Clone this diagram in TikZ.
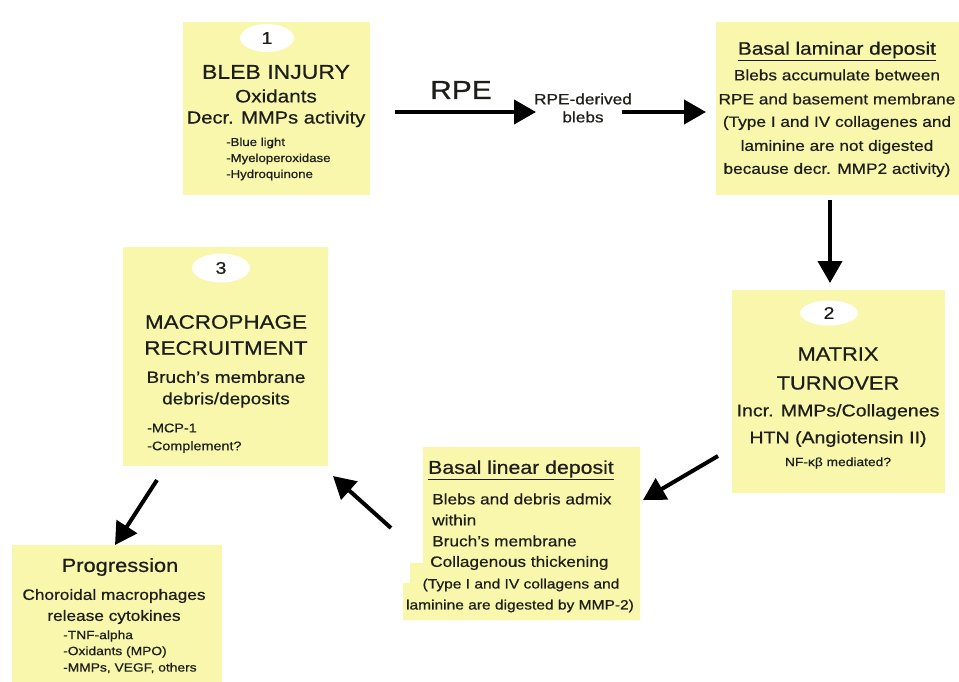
\documentclass[tikz,border=0pt]{standalone}
\usepackage{fontspec}
\setmainfont[FakeStretch=1.15,FakeBold=0.6]{Liberation Sans}
\usetikzlibrary{arrows.meta,shapes.geometric}
\newcommand{\fsz}[1]{\fontsize{#1}{1.15\dimexpr#1pt\relax}\selectfont}
\definecolor{boxyellow}{RGB}{248,247,172}
\definecolor{inkc}{RGB}{30,30,25}
\begin{document}
\begin{tikzpicture}[x=1pt,y=-1pt,
  ybox/.style={fill=boxyellow, draw=none, inner sep=0pt, rectangle},
  oval/.style={ellipse, fill=white, draw=none, inner sep=0pt},
  txt/.style={inner sep=0pt, text=inkc, anchor=center},
  ltxt/.style={inner sep=0pt, text=inkc, anchor=west},
  arr/.style={line width=4pt, draw=black, -{Triangle[length=22pt,width=24pt]}}]
\useasboundingbox (0,0) rectangle (959,682);
\fill[white] (0,0) rectangle (959,682);

% ---------- Box 1 ----------
\node[ybox, minimum width=187pt, minimum height=173pt] (b1) at (276.5,108.5) {};
\node[oval, minimum width=54pt, minimum height=28pt] (o1) at (267,38) {};
\node[txt] (o1t) at (o1) {\fsz{17}1};
\node[txt] (b1a) at (276,72) {\fsz{20}BLEB INJURY};
\node[txt] (b1b) at (276,96) {\fsz{18}Oxidants};
\node[txt] (b1c) at (276,119) {\fsz{17.5}Decr. MMPs activity};
\node[ltxt] (b1d) at (226,143) {\fsz{11.5}-Blue light};
\node[ltxt] (b1e) at (226,159) {\fsz{11.5}-Myeloperoxidase};
\node[ltxt] (b1f) at (226,175) {\fsz{11.5}-Hydroquinone};

% ---------- RPE ----------
\node[txt] (rpe) at (461,90) {\fsz{26}RPE};
\node[txt] (blebsa) at (583,99) {\fsz{15}RPE-derived};
\node[txt] (blebsb) at (583,117) {\fsz{15}blebs};

% ---------- Top right box ----------
\node[ybox, minimum width=243pt, minimum height=173pt] (tr) at (837.5,108.5) {};
\node[txt] (tra) at (837,51) {\fsz{18}\underline{Basal laminar deposit}};
\node[txt] (trb) at (837,75) {\fsz{15}Blebs accumulate between};
\node[txt] (trc) at (837,99) {\fsz{15}RPE and basement membrane};
\node[txt] (trd) at (837,123) {\fsz{15}(Type I and IV collagenes and};
\node[txt] (tre) at (837,147) {\fsz{15}laminine are not digested};
\node[txt] (trf) at (837,170) {\fsz{15}because decr. MMP2 activity)};

% ---------- Box 2 ----------
\node[ybox, minimum width=213pt, minimum height=203pt] (b2) at (838.5,391.5) {};
\node[oval, minimum width=58pt, minimum height=25pt] (o2) at (829,313) {};
\node[txt] (o2t) at (o2) {\fsz{17}2};
\node[txt] (b2a) at (838,354) {\fsz{19}MATRIX};
\node[txt] (b2b) at (838,383) {\fsz{19}TURNOVER};
\node[txt] (b2c) at (838,412) {\fsz{17}Incr. MMPs/Collagenes};
\node[txt] (b2d) at (838,439) {\fsz{17}HTN (Angiotensin II)};
\node[txt] (b2e) at (838,463) {\fsz{12}NF-κβ mediated?};

% ---------- Basal linear deposit ----------
\fill[boxyellow] (423,447) -- (640,447) -- (640,620) -- (403,620) -- (403,583) -- (410,583) -- (410,563) -- (423,563) -- cycle;
\node[txt] (bla) at (521,470) {\fsz{18.5}\underline{Basal linear deposit}};
\node[ltxt] (blb) at (432,499) {\fsz{15}Blebs and debris admix};
\node[ltxt] (blc) at (432,520) {\fsz{15}within};
\node[ltxt] (bld) at (432,541) {\fsz{15}Bruch’s membrane};
\node[ltxt] (ble) at (430,563) {\fsz{15}Collagenous thickening};
\node[txt] (blf) at (521,585) {\fsz{13.5}(Type I and IV collagens and};
\node[txt] (blg) at (520,606) {\fsz{13.5}laminine are digested by MMP-2)};

% ---------- Box 3 ----------
\node[ybox, minimum width=205pt, minimum height=219pt] (b3) at (225.5,356.5) {};
\node[oval, minimum width=58pt, minimum height=29pt] (o3) at (221,268) {};
\node[txt] (o3t) at (o3) {\fsz{17}3};
\node[txt] (b3a) at (226,322) {\fsz{19.5}MACROPHAGE};
\node[txt] (b3b) at (226,348) {\fsz{19.5}RECRUITMENT};
\node[txt] (b3c) at (226,377) {\fsz{16.5}Bruch’s membrane};
\node[txt] (b3d) at (226,400) {\fsz{16.5}debris/deposits};
\node[ltxt] (b3e) at (147,428) {\fsz{12.5}-MCP-1};
\node[ltxt] (b3f) at (147,447) {\fsz{12.5}-Complement?};

% ---------- Progression ----------
\node[ybox, minimum width=210pt, minimum height=137pt] (pr) at (117,613.5) {};
\node[txt] (pra) at (120,567) {\fsz{19}Progression};
\node[txt] (prb) at (114,596) {\fsz{15}Choroidal macrophages};
\node[txt] (prc) at (114,617) {\fsz{15}release cytokines};
\node[ltxt] (prd) at (63,636) {\fsz{12}-TNF-alpha};
\node[ltxt] (pre) at (63,652) {\fsz{12}-Oxidants (MPO)};
\node[ltxt] (prf) at (63,668) {\fsz{12}-MMPs, VEGF, others};

% ---------- Arrows ----------
\coordinate (a1s) at (395,112);  \coordinate (a1e) at (536,112);
\coordinate (a2s) at (622,112);  \coordinate (a2e) at (706,112);
\coordinate (a3s) at (830,200);  \coordinate (a3e) at (830,283);
\coordinate (a4s) at (718,456);  \coordinate (a4e) at (643,500);
\coordinate (a5s) at (391,528);  \coordinate (a5e) at (333,476);
\coordinate (a6s) at (157,480);  \coordinate (a6e) at (115,545);
\draw[arr] (a1s) -- (a1e);
\draw[arr] (a2s) -- (a2e);
\draw[arr] (a3s) -- (a3e);
\draw[arr] (a4s) -- (a4e);
\draw[arr] (a5s) -- (a5e);
\draw[arr] (a6s) -- (a6e);
\end{tikzpicture}
\end{document}
